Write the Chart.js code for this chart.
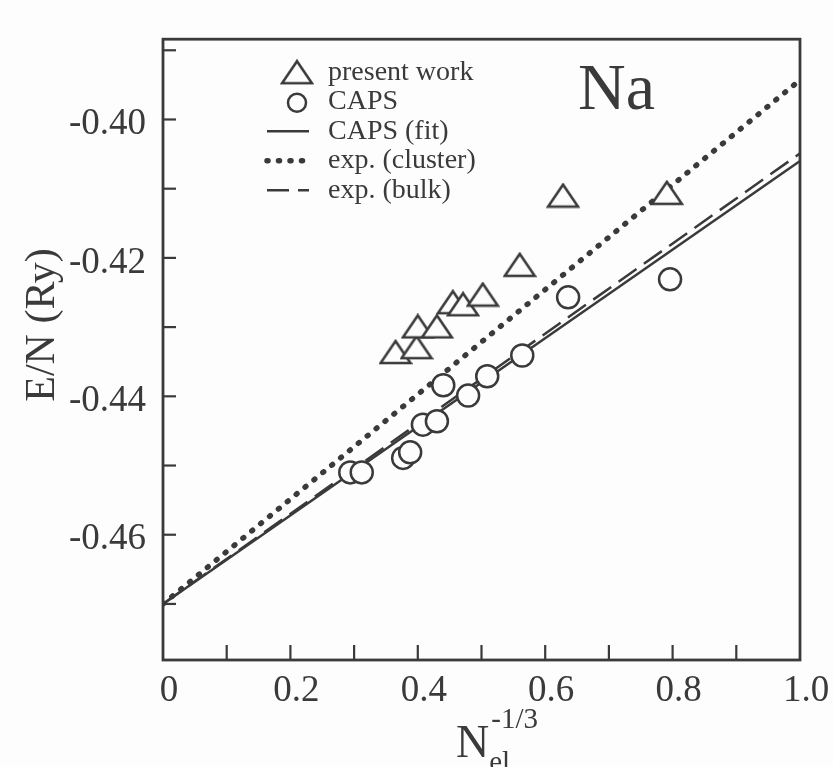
<!DOCTYPE html>
<html>
<head>
<meta charset="utf-8">
<script src="https://cdn.jsdelivr.net/npm/chart.js@4.4.1/dist/chart.umd.min.js"></script>
<style>
  html, body { margin: 0; padding: 0; background: #fdfdfd; }
  #wrap { width: 833px; height: 767px; position: relative; }
</style>
</head>
<body>
<div id="wrap"><canvas id="naChart"></canvas></div>
<script>
// data (x = N_el^-1/3, y = E/N in Ry)
const presentX = [0.365, 0.398, 0.400, 0.430, 0.455, 0.471, 0.502, 0.560, 0.628, 0.791];
const presentY = [-0.4336, -0.4329, -0.4299, -0.4299, -0.4264, -0.4267, -0.4253, -0.4210, -0.4110, -0.4106];

const capsX = [0.294, 0.312, 0.377, 0.388, 0.408, 0.430, 0.440, 0.479, 0.509, 0.564, 0.636, 0.796];
const capsY = [-0.4510, -0.4510, -0.4489, -0.4481, -0.4441, -0.4436, -0.4384, -0.4399, -0.4371, -0.4341, -0.4257, -0.4231];

// straight lines, end points at N^-1/3 = 0 and 1
const lineX = [0, 1.0];
const capsFitY = [-0.470, -0.4060];
const clusterY = [-0.470, -0.3943];
const bulkY = [-0.470, -0.4049];

const xTickLabels = ['0', '0.2', '0.4', '0.6', '0.8', '1.0'];
const yTickLabels = ['-0.40', '-0.42', '-0.44', '-0.46'];

const legendLabels = ['present work', 'CAPS', 'CAPS (fit)', 'exp. (cluster)', 'exp. (bulk)'];

const ink = '#3a3a3a';
const paper = '#fdfdfd';
const serif = "'Liberation Serif', 'DejaVu Serif', serif";

function pts(xs, ys) {
    return xs.map((x, i) => ({ x: x, y: ys[i] }));
}

// the triangles in the figure are flatter than chart.js' equilateral one
function makeTriangle(w, h) {
    const c = document.createElement('canvas');
    c.width = w + 4;
    c.height = h + 4;
    const g = c.getContext('2d');
    g.fillStyle = paper;
    g.strokeStyle = ink;
    g.lineWidth = 2.6;
    g.beginPath();
    g.moveTo(c.width / 2, 2);
    g.lineTo(c.width - 2, c.height - 2);
    g.lineTo(2, c.height - 2);
    g.closePath();
    g.fill();
    g.stroke();
    return c;
}
const triMark = makeTriangle(30, 22);

// frame, inward tick marks, legend, "Na", axis titles
const decor = {
    id: 'decor',
    afterDraw(chart) {
        const ctx = chart.ctx;
        const a = chart.chartArea;
        const xs = chart.scales.x, ys = chart.scales.y;
        ctx.save();
        ctx.strokeStyle = ink;
        ctx.fillStyle = ink;
        ctx.lineWidth = 2.8;
        ctx.setLineDash([]);
        ctx.strokeRect(a.left, a.top, a.right - a.left, a.bottom - a.top);

        // ticks pointing inwards
        ctx.lineWidth = 2.2;
        ys.ticks.forEach(t => {
            const p = ys.getPixelForValue(t.value);
            if (p <= a.top + 2 || p >= a.bottom - 2) return;
            ctx.beginPath();
            ctx.moveTo(a.left, p);
            ctx.lineTo(a.left + 13, p);
            ctx.stroke();
        });
        xs.ticks.forEach(t => {
            const p = xs.getPixelForValue(t.value);
            if (p <= a.left + 2 || p >= a.right - 2) return;
            ctx.beginPath();
            ctx.moveTo(p, a.bottom);
            ctx.lineTo(p, a.bottom - 15);
            ctx.stroke();
        });

        // legend
        const lx = a.left + 134, tx = a.left + 165;
        const ly = a.top + 33;
        const gap = 29.5;
        ctx.font = '28px ' + serif;
        ctx.textBaseline = 'middle';
        chart.data.datasets.forEach((ds, i) => {
            const y = ly + i * gap;
            ctx.strokeStyle = ink;
            if (ds.showLine) {
                ctx.lineWidth = ds.borderWidth;
                ctx.lineCap = ds.borderCapStyle || 'butt';
                ctx.setLineDash(ds.borderDash || []);
                ctx.beginPath();
                ctx.moveTo(lx - 30, y);
                ctx.lineTo(lx + 12, y);
                ctx.stroke();
                ctx.setLineDash([]);
                ctx.lineCap = 'butt';
            } else if (ds.pointStyle === 'circle') {
                ctx.lineWidth = ds.borderWidth;
                ctx.fillStyle = paper;
                ctx.beginPath();
                ctx.arc(lx, y + 1, 9, 0, Math.PI * 2);
                ctx.fill();
                ctx.stroke();
            } else {
                ctx.drawImage(triMark, lx - triMark.width / 2, y - triMark.height / 2);
            }
            ctx.fillStyle = ink;
            ctx.fillText(legendLabels[i], tx, y);
        });

        // element label
        ctx.font = '66px ' + serif;
        ctx.textBaseline = 'alphabetic';
        ctx.fillText('Na', a.left + 415, a.top + 70);

        // y title
        ctx.save();
        ctx.translate(54, 325);
        ctx.rotate(-Math.PI / 2);
        ctx.textAlign = 'center';
        ctx.textBaseline = 'alphabetic';
        ctx.font = '42px ' + serif;
        ctx.fillText('E/N (Ry)', 0, 0);
        ctx.restore();

        // x title N_el^-1/3
        const nx = 456;
        const base = chart.height - 10;
        ctx.textAlign = 'left';
        ctx.font = '46px ' + serif;
        ctx.fillText('N', nx, base);
        const nw = ctx.measureText('N').width;
        ctx.font = '29px ' + serif;
        ctx.fillText('el', nx + nw, base + 14);
        ctx.fillText('-1/3', nx + nw + 2, base - 29);
        ctx.restore();
    }
};

new Chart(document.getElementById('naChart'), {
    type: 'scatter',
    data: {
        datasets: [
            {
                label: legendLabels[0],
                data: pts(presentX, presentY),
                pointStyle: triMark,
                pointRadius: 15,
                borderColor: ink,
                backgroundColor: paper,
                borderWidth: 2.5,
                order: 0
            },
            {
                label: legendLabels[1],
                data: pts(capsX, capsY),
                pointStyle: 'circle',
                pointRadius: 11,
                borderColor: ink,
                backgroundColor: paper,
                borderWidth: 2.5,
                order: 1
            },
            {
                label: legendLabels[2],
                data: pts(lineX, capsFitY),
                showLine: true,
                pointRadius: 0,
                borderColor: ink,
                borderWidth: 2.5,
                order: 2
            },
            {
                label: legendLabels[3],
                data: pts(lineX, clusterY),
                showLine: true,
                pointRadius: 0,
                borderColor: ink,
                borderWidth: 5.5,
                borderDash: [1, 10.5],
                borderCapStyle: 'round',
                order: 3
            },
            {
                label: legendLabels[4],
                data: pts(lineX, bulkY),
                showLine: true,
                pointRadius: 0,
                borderColor: ink,
                borderWidth: 2.5,
                borderDash: [22, 9],
                order: 4
            }
        ]
    },
    options: {
        responsive: true,
        maintainAspectRatio: false,
        animation: false,
        layout: { padding: { top: 25, right: 33, left: 0, bottom: 0 } },
        plugins: {
            legend: { display: false },
            tooltip: { enabled: false }
        },
        scales: {
            x: {
                type: 'linear',
                min: 0,
                max: 1.0,
                border: { display: false },
                grid: { display: false, drawTicks: false },
                ticks: {
                    stepSize: 0.1,
                    includeBounds: false,
                    autoSkip: false,
                    maxRotation: 0,
                    padding: 9,
                    labelOffset: 6,
                    color: ink,
                    font: { family: serif, size: 37 },
                    callback(v) {
                        const k = Math.round(v * 10);
                        return k % 2 === 0 ? xTickLabels[k / 2] : '';
                    }
                },
                afterFit(scale) { scale.height = 107; }
            },
            y: {
                type: 'linear',
                min: -0.4781,
                max: -0.3884,
                border: { display: false },
                grid: { display: false, drawTicks: false },
                ticks: {
                    stepSize: 0.01,
                    includeBounds: false,
                    autoSkip: false,
                    padding: 17,
                    labelOffset: 5,
                    color: ink,
                    font: { family: serif, size: 37 },
                    callback(v) {
                        const k = Math.round(v * 100);
                        const i = yTickLabels.indexOf((k / 100).toFixed(2));
                        return i >= 0 ? yTickLabels[i] : '';
                    }
                },
                afterFit(scale) { scale.width = 163; }
            }
        }
    },
    plugins: [decor]
});
</script>
</body>
</html>
